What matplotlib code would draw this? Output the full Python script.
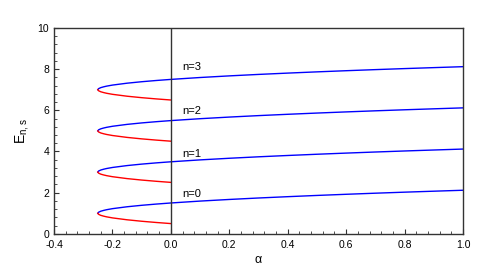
import matplotlib
matplotlib.use('Agg')
from matplotlib import pyplot as plt
from matplotlib.ticker import MultipleLocator

plt.rcParams['font.family'] = ['Liberation Sans', 'DejaVu Sans']
plt.rcParams['font.size'] = 7.5

## values
alpha_up = [-0.25, -0.2475, -0.24, -0.23, -0.22, -0.2, -0.15, -0.1, -0.05, 0.0,
            0.1, 0.2, 0.3, 0.4, 0.5, 0.6, 0.7, 0.8, 0.9, 1.0]
dE_up = [0.0, 0.05, 0.10, 0.14, 0.173, 0.224, 0.316, 0.387, 0.447, 0.5,
         0.592, 0.671, 0.742, 0.806, 0.866, 0.922, 0.975, 1.025, 1.072, 1.118]
alpha_lo = [-0.25, -0.2475, -0.24, -0.23, -0.22, -0.2, -0.15, -0.1, -0.05, 0.0]
dE_lo = [0.0, 0.05, 0.10, 0.14, 0.173, 0.224, 0.316, 0.387, 0.447, 0.5]
E_turn = [1, 3, 5, 7]
labels = ['n=0', 'n=1', 'n=2', 'n=3']
label_y = [1.95, 3.9, 5.95, 8.1]

fig = plt.figure(figsize=(4.91, 2.71), dpi=100)
ax = fig.add_axes([0.110, 0.137, 0.833, 0.760])

for e0, lab, ly in zip(E_turn, labels, label_y):
    ax.plot(alpha_up, [e0 + d for d in dE_up], color='#0000ff', lw=1.0)
    ax.plot(alpha_lo, [e0 - d for d in dE_lo], color='#ff0000', lw=1.0)
    ax.text(0.04, ly, lab, ha='left', va='center', fontsize=8)

ax.axvline(0, color='#333333', lw=1.0)

ax.set_xlim(-0.4, 1.0)
ax.set_ylim(0, 10)
ax.xaxis.set_major_locator(MultipleLocator(0.2))
ax.xaxis.set_minor_locator(MultipleLocator(0.04))
ax.yaxis.set_major_locator(MultipleLocator(2))
ax.yaxis.set_minor_locator(MultipleLocator(0.4))
ax.xaxis.set_major_formatter(matplotlib.ticker.FormatStrFormatter('%.1f'))
ax.tick_params(which='both', direction='in', top=False, right=False, color='#333333')
ax.tick_params(which='major', length=3.5)
ax.tick_params(which='minor', length=2)
ax.tick_params(axis='x', pad=4.5)
ax.tick_params(axis='y', pad=3.5)
for s in ax.spines.values():
    s.set_color('#333333')
    s.set_linewidth(1.0)

ax.set_xlabel('α', fontsize=9, labelpad=3)
ax.set_ylabel('$\\mathregular{E_{n,s}}$', fontsize=10, labelpad=5)

plt.savefig('out.png')
